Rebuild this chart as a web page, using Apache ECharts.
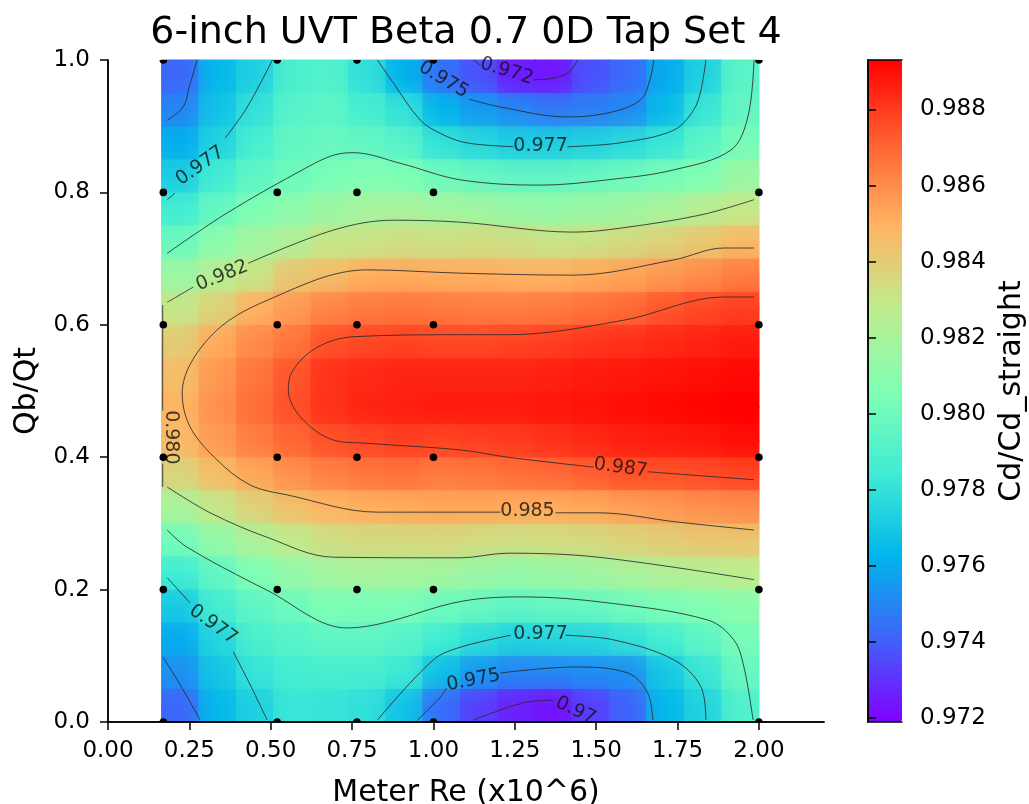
<!DOCTYPE html>
<html>
<head>
<meta charset="utf-8">
<script src="https://cdn.jsdelivr.net/npm/echarts@6/dist/echarts.min.js"></script>
<style>
html, body { margin: 0; padding: 0; background: #fff; }
#main { width: 1029px; height: 804px; }
</style>
</head>
<body>
<div id="main"></div>
<script>
var myChart = echarts.init(document.getElementById('main'));

// extent of the interpolated field (Meter Re x10^6)
var fieldLeft = 0.165, fieldRight = 2.0;

// cell centres of the field grid
var reCenters = [0.222, 0.337, 0.452, 0.566, 0.681, 0.796, 0.911, 1.025, 1.140, 1.255, 1.369, 1.484, 1.599, 1.713, 1.828, 1.943];
var qCenters = [0.025, 0.075, 0.125, 0.175, 0.225, 0.275, 0.325, 0.375, 0.425, 0.475,
                0.525, 0.575, 0.625, 0.675, 0.725, 0.775, 0.825, 0.875, 0.925, 0.975];

// Cd/Cd_straight, one row per qCenters entry (bottom to top), one value per reCenters entry
var cdRows = [
    [0.9742, 0.9764, 0.9773, 0.9782, 0.9781, 0.9779, 0.9768, 0.9744, 0.9733, 0.9726, 0.9723, 0.9733, 0.9741, 0.9764, 0.9774, 0.9790],
    [0.9753, 0.9769, 0.9781, 0.9786, 0.9787, 0.9787, 0.9783, 0.9767, 0.9755, 0.9750, 0.9751, 0.9752, 0.9753, 0.9770, 0.9782, 0.9798],
    [0.9760, 0.9775, 0.9788, 0.9792, 0.9795, 0.9795, 0.9792, 0.9785, 0.9778, 0.9774, 0.9775, 0.9776, 0.9780, 0.9786, 0.9794, 0.9803],
    [0.9771, 0.9786, 0.9795, 0.9800, 0.9805, 0.9804, 0.9804, 0.9800, 0.9798, 0.9795, 0.9797, 0.9798, 0.9801, 0.9804, 0.9807, 0.9810],
    [0.9785, 0.9796, 0.9806, 0.9813, 0.9818, 0.9820, 0.9819, 0.9818, 0.9815, 0.9813, 0.9815, 0.9817, 0.9820, 0.9823, 0.9825, 0.9827],
    [0.9802, 0.9813, 0.9822, 0.9828, 0.9833, 0.9835, 0.9835, 0.9836, 0.9834, 0.9833, 0.9834, 0.9835, 0.9838, 0.9840, 0.9842, 0.9843],
    [0.9820, 0.9830, 0.9838, 0.9845, 0.9849, 0.9851, 0.9852, 0.9853, 0.9853, 0.9852, 0.9852, 0.9853, 0.9855, 0.9857, 0.9859, 0.9860],
    [0.9837, 0.9846, 0.9853, 0.9859, 0.9863, 0.9866, 0.9867, 0.9865, 0.9866, 0.9868, 0.9869, 0.9872, 0.9875, 0.9875, 0.9876, 0.9878],
    [0.9847, 0.9856, 0.9864, 0.9870, 0.9875, 0.9877, 0.9879, 0.9878, 0.9879, 0.9880, 0.9882, 0.9884, 0.9886, 0.9887, 0.9888, 0.9890],
    [0.9849, 0.9859, 0.9868, 0.9875, 0.9882, 0.9885, 0.9886, 0.9887, 0.9887, 0.9887, 0.9888, 0.9889, 0.9890, 0.9891, 0.9892, 0.9893],
    [0.9846, 0.9857, 0.9866, 0.9874, 0.9882, 0.9884, 0.9885, 0.9885, 0.9885, 0.9885, 0.9886, 0.9887, 0.9888, 0.9889, 0.9890, 0.9891],
    [0.9840, 0.9852, 0.9860, 0.9866, 0.9875, 0.9877, 0.9878, 0.9877, 0.9877, 0.9878, 0.9879, 0.9881, 0.9882, 0.9884, 0.9885, 0.9887],
    [0.9830, 0.9838, 0.9850, 0.9856, 0.9862, 0.9865, 0.9866, 0.9865, 0.9864, 0.9864, 0.9865, 0.9867, 0.9869, 0.9874, 0.9877, 0.9879],
    [0.9816, 0.9825, 0.9831, 0.9842, 0.9846, 0.9851, 0.9852, 0.9851, 0.9851, 0.9850, 0.9850, 0.9852, 0.9854, 0.9857, 0.9860, 0.9864],
    [0.9799, 0.9810, 0.9818, 0.9823, 0.9830, 0.9831, 0.9833, 0.9832, 0.9834, 0.9833, 0.9831, 0.9832, 0.9835, 0.9838, 0.9842, 0.9847],
    [0.9785, 0.9797, 0.9805, 0.9811, 0.9815, 0.9819, 0.9820, 0.9818, 0.9817, 0.9814, 0.9813, 0.9815, 0.9817, 0.9820, 0.9825, 0.9829],
    [0.9772, 0.9785, 0.9795, 0.9800, 0.9804, 0.9806, 0.9805, 0.9800, 0.9797, 0.9795, 0.9795, 0.9797, 0.9800, 0.9803, 0.9806, 0.9815],
    [0.9761, 0.9774, 0.9787, 0.9796, 0.9798, 0.9796, 0.9792, 0.9780, 0.9776, 0.9772, 0.9772, 0.9774, 0.9777, 0.9782, 0.9793, 0.9803],
    [0.9750, 0.9768, 0.9780, 0.9792, 0.9794, 0.9787, 0.9780, 0.9763, 0.9756, 0.9751, 0.9747, 0.9748, 0.9751, 0.9765, 0.9782, 0.9796],
    [0.9742, 0.9764, 0.9773, 0.9788, 0.9790, 0.9779, 0.9762, 0.9745, 0.9737, 0.9725, 0.9724, 0.9737, 0.9743, 0.9760, 0.9773, 0.9793]
];

// measurement points (black dots)
var pointsRe = [0.17, 0.52, 0.765, 1.0, 2.0];
var pointsQ = [0, 0.2, 0.4, 0.6, 0.8, 1.0];

// tick labels
var xTicks = [0, 0.25, 0.5, 0.75, 1.0, 1.25, 1.5, 1.75, 2.0];
var yTicks = [0, 0.2, 0.4, 0.6, 0.8, 1.0];
var barTicks = [0.972, 0.974, 0.976, 0.978, 0.980, 0.982, 0.984, 0.986, 0.988];
var barMin = 0.9719, barMax = 0.9893;

// contour line pieces (gaps where the labels sit)
var contourPieces = [
    [[1.123, 1.0], [1.145, 0.992]],
    [[1.308, 0.970], [1.36, 0.972], [1.412, 0.980], [1.443, 1.0]],
    [[1.108, 0.941], [1.206, 0.929], [1.412, 0.914], [1.545, 0.921], [1.637, 0.940], [1.665, 0.970], [1.677, 1.0]],
    [[0.828, 1.0], [0.877, 0.965], [0.960, 0.909], [1.022, 0.889], [1.10, 0.875], [1.246, 0.869]],
    [[1.412, 0.869], [1.575, 0.875], [1.738, 0.894], [1.80, 0.925], [1.822, 0.955], [1.837, 1.0]],
    [[0.274, 1.0], [0.25, 0.96], [0.231, 0.929], [0.182, 0.909]],
    [[0.505, 1.0], [0.428, 0.929], [0.36, 0.882]],
    [[0.206, 0.799], [0.182, 0.789]],
    [[0.182, 0.708], [0.366, 0.769], [0.612, 0.838], [0.692, 0.856], [0.754, 0.860], [0.898, 0.844], [1.083, 0.819],
     [1.329, 0.811], [1.535, 0.819], [1.738, 0.834], [1.914, 0.864], [1.966, 0.914], [1.985, 1.0]],
    [[0.182, 0.634], [0.262, 0.657]],
    [[0.431, 0.693], [0.692, 0.743], [0.877, 0.758], [1.083, 0.755], [1.431, 0.740], [1.575, 0.746], [1.822, 0.766], [1.985, 0.789]],
    [[1.985, 0.716], [1.892, 0.716], [1.738, 0.698], [1.431, 0.675], [1.083, 0.678], [0.797, 0.683], [0.489, 0.637],
     [0.314, 0.582], [0.228, 0.497], [0.252, 0.446], [0.335, 0.396], [0.437, 0.358], [0.551, 0.343], [0.828, 0.317],
     [1.083, 0.317], [1.206, 0.317]],
    [[1.375, 0.316], [1.505, 0.316], [1.75, 0.302], [1.985, 0.290]],
    [[1.985, 0.642], [1.892, 0.642], [1.585, 0.607], [1.228, 0.585], [1.083, 0.585], [0.754, 0.582], [0.643, 0.566],
     [0.569, 0.532], [0.554, 0.502], [0.591, 0.461], [0.692, 0.426], [0.797, 0.421], [1.083, 0.411], [1.228, 0.400], [1.492, 0.385]],
    [[1.658, 0.378], [1.985, 0.366]],
    [[0.182, 0.355], [0.314, 0.316], [0.489, 0.279], [0.692, 0.249], [1.083, 0.248], [1.228, 0.255], [1.505, 0.249], [1.985, 0.215]],
    [[0.182, 0.290], [0.243, 0.264], [0.489, 0.199], [0.735, 0.142], [0.85, 0.150], [1.083, 0.182], [1.277, 0.189],
     [1.535, 0.180], [1.843, 0.154], [1.923, 0.124], [1.954, 0.083], [1.982, 0.003]],
    [[0.182, 0.218], [0.252, 0.180]],
    [[0.385, 0.106], [0.437, 0.056], [0.489, 0.003]],
    [[0.169, 0.098], [0.222, 0.056], [0.283, 0.003]],
    [[0.828, 0.003], [1.0, 0.094], [1.083, 0.113], [1.237, 0.131]],
    [[1.406, 0.131], [1.554, 0.124], [1.738, 0.094], [1.822, 0.053], [1.837, 0.003]],
    [[0.951, 0.003], [1.022, 0.038], [1.040, 0.051]],
    [[1.206, 0.074], [1.431, 0.083], [1.597, 0.074], [1.658, 0.044], [1.674, 0.003]],
    [[1.123, 0.003], [1.277, 0.029], [1.369, 0.033]],
    [[0.168, 0.63], [0.168, 0.47]],
    [[0.168, 0.39], [0.168, 0.355]]
];

// inline contour labels: text, x, y, rotation
var contourLabels = [
    ['0.972', 1.225, 0.983, -17],
    ['0.975', 1.031, 0.970, -31],
    ['0.977', 1.329, 0.870, 0],
    ['0.977', 0.283, 0.840, 35],
    ['0.982', 0.351, 0.674, 22],
    ['0.980', 0.194, 0.430, -90],
    ['0.987', 1.575, 0.384, -8],
    ['0.985', 1.289, 0.319, 0],
    ['0.977', 0.323, 0.147, -36],
    ['0.977', 1.329, 0.133, 0],
    ['0.975', 1.123, 0.063, 11],
    ['0.97', 1.437, 0.017, -25]
];

var rainbow = ['#8000ff', '#4062fa', '#00b5ec', '#40ecd4', '#80ffb4', '#bfec8e', '#ffb462', '#ff6232', '#ff0000'];
var font = 'DejaVu Sans';

var colW = (fieldRight - fieldLeft) / reCenters.length;
var rowH = 1 / qCenters.length;

var fieldData = [];
for (var j = 0; j < cdRows.length; j++) {
    for (var i = 0; i < cdRows[j].length; i++) {
        fieldData.push([reCenters[i], qCenters[j], cdRows[j][i], i, j]);
    }
}

var dots = [];
pointsRe.forEach(function (x) {
    pointsQ.forEach(function (y) { dots.push([x, y]); });
});

function cellColor(v) {
    var t = (v - barMin) / (barMax - barMin);
    return echarts.color.lerp(Math.max(0, Math.min(1, t)), rainbow);
}

function box(x0, y0, x1, y1, fill, alpha) {
    return {
        type: 'rect',
        shape: { x: Math.min(x0, x1), y: Math.min(y0, y1), width: Math.abs(x1 - x0), height: Math.abs(y1 - y0) },
        style: { fill: fill, opacity: alpha }
    };
}

// shading down each column: colour blends from one row centre to the next
function renderColumnShade(params, api) {
    var i = api.value(3), j = api.value(4);
    var re = api.value(0), q = api.value(1);
    var xa = api.coord([re - colW / 2, q])[0] - 0.5;
    var xb = api.coord([re + colW / 2, q])[0] + 0.5;
    var yc = api.coord([re, q])[1];
    var c0 = cellColor(api.value(2));
    var kids = [];
    if (j === 0) kids.push(box(xa, yc, xb, api.coord([re, q - rowH / 2])[1] + 0.5, c0, 1));
    if (j === cdRows.length - 1) {
        kids.push(box(xa, api.coord([re, q + rowH / 2])[1] - 0.5, xb, yc, c0, 1));
    } else {
        var yn = api.coord([re, qCenters[j + 1]])[1];
        var c1 = cellColor(cdRows[j + 1][i]);
        kids.push(box(xa, yn - 0.5, xb, yc + 0.5, new echarts.graphic.LinearGradient(0, 0, 0, 1, [
            { offset: 0, color: c1 }, { offset: 1, color: c0 }
        ]), 1));
    }
    return { type: 'group', children: kids };
}

// shading along each row: colour blends from one column centre to the next, laid half-transparent on top
function renderRowShade(params, api) {
    var i = api.value(3), j = api.value(4);
    var re = api.value(0), q = api.value(1);
    var ya = api.coord([re, q + rowH / 2])[1];
    var yb = api.coord([re, q - rowH / 2])[1];
    var xc = api.coord([re, q])[0];
    var c0 = cellColor(api.value(2));
    var kids = [];
    if (i === 0) kids.push(box(api.coord([re - colW / 2, q])[0], ya, xc, yb, c0, 0.5));
    if (i === reCenters.length - 1) {
        kids.push(box(xc, ya, api.coord([re + colW / 2, q])[0], yb, c0, 0.5));
    } else {
        var xn = api.coord([reCenters[i + 1], q])[0];
        var c1 = cellColor(cdRows[j][i + 1]);
        kids.push(box(xc, ya, xn, yb, new echarts.graphic.LinearGradient(0, 0, 1, 0, [
            { offset: 0, color: c0 }, { offset: 1, color: c1 }
        ]), 0.5));
    }
    return { type: 'group', children: kids };
}

function renderDot(params, api) {
    var p = api.coord([api.value(0), api.value(1)]);
    return { type: 'circle', shape: { cx: p[0], cy: p[1], r: 3.8 }, style: { fill: '#000' } };
}

var series = [{
    type: 'custom',
    xAxisIndex: 0,
    yAxisIndex: 0,
    data: fieldData,
    renderItem: renderColumnShade,
    silent: true,
    z: 1
}, {
    type: 'custom',
    xAxisIndex: 0,
    yAxisIndex: 0,
    data: fieldData,
    renderItem: renderRowShade,
    silent: true,
    z: 2
}];

contourPieces.forEach(function (p) {
    series.push({
        type: 'line',
        xAxisIndex: 0,
        yAxisIndex: 0,
        data: p,
        smooth: 0.35,
        symbol: 'none',
        silent: true,
        lineStyle: { color: '#2a2a2a', width: 1, opacity: 0.85 },
        z: 3
    });
});

series.push({
    type: 'scatter',
    xAxisIndex: 0,
    yAxisIndex: 0,
    symbolSize: 1,
    itemStyle: { color: 'transparent' },
    silent: true,
    data: contourLabels.map(function (c) {
        return { value: [c[1], c[2]], label: { formatter: c[0], rotate: c[3] } };
    }),
    label: { show: true, position: 'inside', color: '#111', fontSize: 19, fontFamily: font },
    z: 4
});

// measurement points, clipped by the plot frame like the original
series.push({
    type: 'custom',
    xAxisIndex: 0,
    yAxisIndex: 0,
    data: dots,
    renderItem: renderDot,
    clip: true,
    silent: true,
    z: 6
});

// plot box in pixels
var plotLeft = 108, plotRight = 824, plotTop = 60, plotBottom = 722, xMax = 2.2;

var lineAxis = { lineStyle: { color: '#000', width: 1.5 } };
var tickStyle = { length: 8, lineStyle: { color: '#000', width: 1.5 } };

option = {
    animation: false,
    backgroundColor: '#fff',
    textStyle: { fontFamily: font },
    grid: [
        { left: plotLeft, right: 1029 - plotRight, top: plotTop, bottom: 804 - plotBottom, outerBoundsMode: 'none', containLabel: false },
        { left: 868, width: 34, top: plotTop, bottom: 804 - plotBottom, outerBoundsMode: 'none', containLabel: false }
    ],
    visualMap: {
        type: 'continuous',
        seriesIndex: 0,
        dimension: 2,
        min: barMin,
        max: barMax,
        calculable: false,
        hoverLink: false,
        orient: 'vertical',
        left: 868,
        top: plotTop,
        padding: 0,
        itemWidth: 34,
        itemHeight: plotBottom - plotTop,
        inRange: { color: rainbow }
    },
    xAxis: [
        {
            type: 'value', gridIndex: 0, position: 'bottom', min: 0, max: xMax, z: 5,
            axisLine: lineAxis, axisTick: Object.assign({ customValues: xTicks }, tickStyle),
            axisLabel: { customValues: xTicks, formatter: function (v) { return v.toFixed(2); }, fontSize: 23, color: '#000', margin: 18, fontFamily: font },
            splitLine: { show: false },
            name: 'Meter Re (x10^6)', nameLocation: 'middle', nameGap: 56,
            nameTextStyle: { fontSize: 30, color: '#000', fontFamily: font }
        },
        {
            type: 'value', gridIndex: 0, position: 'top', min: 0, max: xMax, z: 5,
            axisLine: lineAxis, axisTick: { show: false }, axisLabel: { show: false }, splitLine: { show: false },
            name: '6-inch UVT Beta 0.7 0D Tap Set 4', nameLocation: 'middle', nameGap: 8,
            nameTextStyle: { fontSize: 38, color: '#000', fontFamily: font }
        },
        {
            type: 'value', gridIndex: 1, position: 'bottom', min: 0, max: 1, z: 10,
            axisLine: lineAxis, axisTick: { show: false }, axisLabel: { show: false }, splitLine: { show: false }
        },
        {
            type: 'value', gridIndex: 1, position: 'top', min: 0, max: 1, z: 10,
            axisLine: lineAxis, axisTick: { show: false }, axisLabel: { show: false }, splitLine: { show: false }
        }
    ],
    yAxis: [
        {
            type: 'value', gridIndex: 0, position: 'left', min: 0, max: 1, z: 5,
            axisLine: lineAxis, axisTick: Object.assign({ customValues: yTicks }, tickStyle),
            axisLabel: { customValues: yTicks, formatter: function (v) { return v.toFixed(1); }, fontSize: 23, color: '#000', margin: 18, fontFamily: font },
            splitLine: { show: false },
            name: 'Qb/Qt', nameLocation: 'middle', nameGap: 66,
            nameTextStyle: { fontSize: 30, color: '#000', fontFamily: font }
        },
        {
            type: 'value', gridIndex: 0, position: 'right', min: 0, max: 1, z: 5,
            axisLine: lineAxis, axisTick: { show: false }, axisLabel: { show: false }, splitLine: { show: false }
        },
        {
            type: 'value', gridIndex: 1, position: 'right', min: barMin, max: barMax, z: 10,
            axisLine: lineAxis, axisTick: Object.assign({ customValues: barTicks }, tickStyle),
            axisLabel: { customValues: barTicks, formatter: function (v) { return v.toFixed(3); }, fontSize: 23, color: '#000', margin: 18, fontFamily: font },
            splitLine: { show: false },
            name: 'Cd/Cd_straight', nameLocation: 'middle', nameGap: 95,
            nameTextStyle: { fontSize: 30, color: '#000', fontFamily: font }
        },
        {
            type: 'value', gridIndex: 1, position: 'left', min: barMin, max: barMax, z: 10,
            axisLine: lineAxis, axisTick: { show: false }, axisLabel: { show: false }, splitLine: { show: false }
        }
    ],
    series: series
};

myChart.setOption(option);
</script>
</body>
</html>
